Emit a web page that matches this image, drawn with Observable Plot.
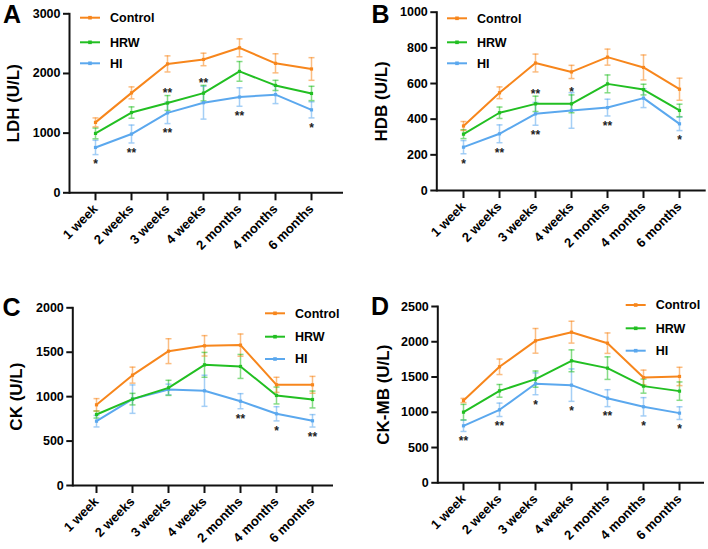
<!DOCTYPE html>
<html><head><meta charset="utf-8">
<script src="https://cdn.jsdelivr.net/npm/d3@7"></script>
<script src="https://cdn.jsdelivr.net/npm/@observablehq/plot@0.6"></script>
<style>
body{margin:0;background:#fff;}
#wrap{position:relative;width:708px;height:549px;overflow:hidden;background:#fff;font-family:"Liberation Sans",Arial,sans-serif;}
.panel{position:absolute;}
</style></head><body><div id="wrap"></div>
<script>
const categories = ["1 week","2 weeks","3 weeks","4 weeks","2 months","4 months","6 months"];
const seriesNames = ["Control","HRW","HI"];
const seriesColors = ["#F7861C","#22BF22","#5BA8EE"];

// A: LDH
const ldhControl = [1180, 1675, 2160, 2235, 2430, 2170, 2075];
const ldhControlErr = [75, 100, 135, 105, 150, 160, 190];
const ldhHRW = [995, 1345, 1505, 1670, 2035, 1800, 1665];
const ldhHRWErr = [90, 95, 125, 130, 165, 85, 120];
const ldhHI = [760, 985, 1340, 1510, 1605, 1645, 1390];
const ldhHIErr = [120, 150, 180, 275, 155, 150, 135];
const ldhSigHRW = ["", "", "**", "**", "", "", ""];
const ldhSigHI = ["*", "**", "**", "", "**", "", "*"];
const ldhTicks = [0, 1000, 2000, 3000];

// B: HDB
const hdbControl = [362, 548, 715, 665, 748, 690, 568];
const hdbControlErr = [25, 33, 50, 37, 45, 70, 62];
const hdbHRW = [316, 436, 486, 486, 598, 566, 449];
const hdbHRWErr = [25, 32, 43, 50, 50, 30, 35];
const hdbHI = [243, 318, 430, 449, 465, 518, 374];
const hdbHIErr = [37, 50, 64, 100, 47, 53, 38];
const hdbSigHRW = ["", "", "**", "*", "", "", ""];
const hdbSigHI = ["*", "**", "**", "", "**", "", "*"];
const hdbTicks = [0, 200, 400, 600, 800, 1000];

// C: CK
const ckControl = [908, 1242, 1512, 1572, 1580, 1133, 1133];
const ckControlErr = [70, 90, 140, 115, 125, 85, 95];
const ckHRW = [799, 972, 1099, 1358, 1340, 1013, 968];
const ckHRWErr = [40, 65, 85, 140, 135, 95, 95];
const ckHI = [724, 972, 1081, 1066, 949, 807, 728];
const ckHIErr = [65, 160, 60, 175, 85, 80, 70];
const ckSigHRW = ["", "", "", "", "", "", ""];
const ckSigHI = ["", "", "", "", "**", "*", "**"];
const ckTicks = [0, 500, 1000, 1500, 2000];

// D: CK-MB
const ckmbControl = [1167, 1645, 2013, 2136, 1980, 1493, 1508];
const ckmbControlErr = [30, 110, 175, 155, 145, 105, 130];
const ckmbHRW = [1002, 1304, 1470, 1730, 1626, 1371, 1300];
const ckmbHRWErr = [110, 90, 115, 155, 160, 100, 130];
const ckmbHI = [808, 1035, 1404, 1385, 1200, 1078, 988];
const ckmbHIErr = [80, 95, 155, 230, 120, 130, 90];
const ckmbSigHRW = ["", "", "", "", "", "", ""];
const ckmbSigHI = ["**", "**", "*", "*", "**", "*", "*"];
const ckmbTicks = [0, 500, 1000, 1500, 2000, 2500];

const panels = [
  {letter:"A", label:"LDH (U/L)", ticks:ldhTicks, values:[ldhControl, ldhHRW, ldhHI], errors:[ldhControlErr, ldhHRWErr, ldhHIErr], sigHRW:ldhSigHRW, sigHI:ldhSigHI,
   lay:{left:0, top:0, height:280, ml:69, mt:13.3, mb:87.7, mr:11, xr:[93.3,313.3], labelDx:-56, letter:[11.5,14], legX:80, legY:[17.7,42.3,63.3]}},
  {letter:"B", label:"HDB (U/L)", ticks:hdbTicks, values:[hdbControl, hdbHRW, hdbHI], errors:[hdbControlErr, hdbHRWErr, hdbHIErr], sigHRW:hdbSigHRW, sigHI:hdbSigHI,
   lay:{left:354, top:0, height:280, ml:82.3, mt:11.7, mb:90, mr:2.3, xr:[106.3,327], labelDx:-55, letter:[26,14], legX:93, legY:[18.3,42.3,63.3]}},
  {letter:"C", label:"CK (U/L)", ticks:ckTicks, values:[ckControl, ckHRW, ckHI], errors:[ckControlErr, ckHRWErr, ckHIErr], sigHRW:ckSigHRW, sigHI:ckSigHI,
   lay:{left:0, top:280, height:269, ml:72.3, mt:27.3, mb:64, mr:21, xr:[94.7,313], labelDx:-56, letter:[11,27.5], legX:265, legY:[33.3,56.7,79]}},
  {letter:"D", label:"CK-MB (U/L)", ticks:ckmbTicks, values:[ckmbControl, ckmbHRW, ckmbHI], errors:[ckmbControlErr, ckmbHRWErr, ckmbHIErr], sigHRW:ckmbSigHRW, sigHI:ckmbSigHI,
   lay:{left:354, top:280, height:269, ml:83.3, mt:26, mb:66.7, mr:4, xr:[107.7,325.7], labelDx:-54, letter:[25.5,26], legX:271.7, legY:[25,48.3,70.7]}}
];

const FONT = "Liberation Sans, Arial, Helvetica, sans-serif";
const wrap = document.getElementById("wrap");
const capSymbol = {draw(ctx) { ctx.moveTo(-3, 0); ctx.lineTo(3, 0); }};

for (const p of panels) {
  const L = p.lay;
  const rows = [];
  seriesNames.forEach((s, si) => {
    categories.forEach((c, i) => {
      rows.push({cat:c, series:s, value:p.values[si][i], err:p.errors[si][i],
        sig: s === "HRW" ? p.sigHRW[i] : s === "HI" ? p.sigHI[i] : ""});
    });
  });
  const drawOrder = ["HI","HRW","Control"];
  const ordered = drawOrder.flatMap(s => rows.filter(r => r.series === s));
  const fig = Plot.plot({
    width: 354, height: L.height,
    marginLeft: L.ml, marginTop: L.mt, marginBottom: L.mb, marginRight: L.mr,
    x: {type:"point", domain:categories, range:L.xr, padding:0, label:null},
    y: {domain:[0, p.ticks[p.ticks.length-1]], label:null},
    color: {domain:seriesNames, range:seriesColors},
    style: {fontFamily: FONT, background:"transparent", overflow:"visible", color:"#000"},
    marks: [
      Plot.ruleX(ordered, {x:"cat", y1:d=>d.value-d.err, y2:d=>d.value+d.err, stroke:"series", strokeOpacity:0.55, strokeWidth:1.5}),
      Plot.dot(ordered, {x:"cat", y:d=>d.value+d.err, symbol:capSymbol, stroke:"series", fill:"none", strokeOpacity:0.55, strokeWidth:1.5}),
      Plot.dot(ordered, {x:"cat", y:d=>d.value-d.err, symbol:capSymbol, stroke:"series", fill:"none", strokeOpacity:0.55, strokeWidth:1.5}),
      Plot.line(ordered, {x:"cat", y:"value", z:"series", stroke:"series", strokeWidth:2}),
      Plot.dot(ordered, {x:"cat", y:"value", fill:"series", symbol:"square", r:1.8}),
      Plot.text(rows.filter(d=>d.series==="HI" && d.sig), {x:"cat", y:d=>d.value-d.err, text:"sig", dy:10, fontSize:12, fontWeight:"bold", fill:"#222"}),
      Plot.text(rows.filter(d=>d.series==="HRW" && d.sig), {x:"cat", y:d=>d.value+d.err, text:"sig", dy:-2.5, fontSize:12, fontWeight:"bold", fill:"#222"}),
      Plot.ruleY([0], {strokeWidth:2, stroke:"#111"}),
      Plot.frame({anchor:"left", strokeWidth:2, stroke:"#111"}),
      Plot.axisY({ticks:p.ticks, tickSize:6, tickPadding:3, strokeWidth:2, stroke:"#111", fontWeight:"bold", fontSize:12.5, label:null, tickFormat:d=>String(d)}),
      Plot.axisX({tickRotate:-45, tickSize:8, tickPadding:6, strokeWidth:2, stroke:"#111", fontWeight:"bold", fontSize:13, label:null}),
      Plot.text([p.label], {frameAnchor:"left", dx:L.labelDx, rotate:-90, text:d=>d, textAnchor:"middle", lineAnchor:"middle", fontSize:17, fontWeight:"bold", fill:"#000"}),
      Plot.text([p.letter], {frameAnchor:"top-left", dx:L.letter[0]-L.ml, dy:L.letter[1]-L.mt, text:d=>d, textAnchor:"middle", lineAnchor:"middle", fontSize:25, fontWeight:"bold", fill:"#000"})
    ]
  });
  const div = document.createElement("div");
  div.className = "panel";
  div.style.left = L.left + "px";
  div.style.top = L.top + "px";
  div.appendChild(fig);
  wrap.appendChild(div);

  // legend
  const svg = d3.select(fig);
  const lg = svg.append("g").attr("text-anchor", "start");
  seriesNames.forEach((s, i) => {
    const y = L.legY[i];
    lg.append("line").attr("x1", L.legX).attr("x2", L.legX + 20).attr("y1", y).attr("y2", y)
      .attr("stroke", seriesColors[i]).attr("stroke-width", 2);
    lg.append("rect").attr("x", L.legX + 10 - 1.8).attr("y", y - 1.8).attr("width", 3.6).attr("height", 3.6)
      .attr("fill", seriesColors[i]);
    lg.append("text").attr("x", L.legX + 30).attr("y", y).attr("dy", "0.35em").attr("text-anchor", "start")
      .attr("font-family", FONT).attr("font-size", 12.5).attr("font-weight", "bold").attr("fill", "#000").text(s);
  });
}
</script></body></html>
